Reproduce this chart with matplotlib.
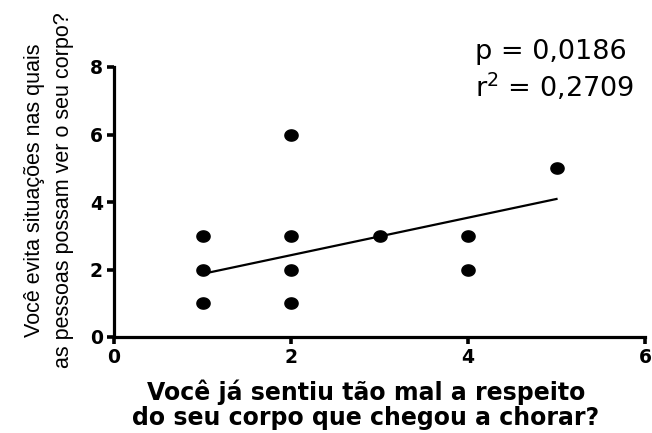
import matplotlib
matplotlib.use("Agg")
import matplotlib.pyplot as plt
import numpy as np
from matplotlib.path import Path

plt.rcParams['font.family'] = ['Liberation Sans', 'DejaVu Sans']

# Data
x_vals = [1, 1, 1, 2, 2, 2, 2, 3, 4, 4, 5]
y_vals = [1, 2, 3, 1, 2, 3, 6, 3, 2, 3, 5]
fit_x = [1, 5]
fit_y = [1.87, 4.09]
x_ticks = [0, 2, 4, 6]
y_ticks = [0, 2, 4, 6, 8]
p_text = "p = 0,0186"
r2_text = "r$^2$ = 0,2709"
xlabel = "Você já sentiu tão mal a respeito\ndo seu corpo que chegou a chorar?"
ylabel = "Você evita situações nas quais\nas pessoas possam ver o seu corpo?"

W, H = 652, 433
fig = plt.figure(figsize=(W/100, H/100), dpi=100)
x0, x1, y0, y1 = 114, 645, 337, 67
ax = fig.add_axes([x0/W, 1-y0/H, (x1-x0)/W, (y0-y1)/H])

# slightly wide elliptical marker
t = np.linspace(0, 2*np.pi, 60)
verts = np.column_stack([np.cos(t), 0.85*np.sin(t)])
ell = Path(verts, closed=True)

ax.plot(fit_x, fit_y, color='black', lw=1.6, zorder=2)
ax.plot(x_vals, y_vals, linestyle='none', marker=ell, markersize=9.5,
        color='black', zorder=3, clip_on=False)

ax.set_xlim(0, 6)
ax.set_ylim(0, 8)
ax.set_xticks(x_ticks)
ax.set_yticks(y_ticks)
tick_font = dict(family='DejaVu Sans', fontweight='bold', fontsize=13.5)
ax.set_xticklabels([str(v) for v in x_ticks], **tick_font)
ax.set_yticklabels([str(v) for v in y_ticks], **tick_font)
ax.tick_params(direction='out', length=5, width=2.6, pad=3)
for s in ['top', 'right']:
    ax.spines[s].set_visible(False)
for s in ['left', 'bottom']:
    ax.spines[s].set_linewidth(2.3)

fig.text(366/W, 1-405/H, xlabel, family='DejaVu Sans', fontweight='bold',
         fontsize=17, ha='center', va='center', multialignment='center',
         linespacing=1.05)
fig.text(49/W, 1-190/H, ylabel, rotation=90, family='Liberation Sans',
         fontsize=15.5, ha='center', va='center', rotation_mode='anchor',
         multialignment='center', linespacing=1.45)

fig.text(475/W, 1-52/H, p_text, family='DejaVu Sans', fontsize=19.5,
         va='center', ha='left')
fig.text(475/W, 1-87/H, r2_text, family='DejaVu Sans', fontsize=19.5,
         va='center', ha='left')

fig.savefig("out.png", dpi=100)
